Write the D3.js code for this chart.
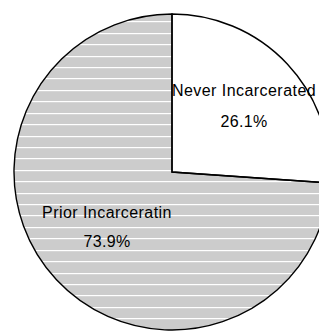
<!DOCTYPE html>
<html><head><meta charset="utf-8">
<script src="https://cdn.jsdelivr.net/npm/d3@7"></script>
<style>html,body{margin:0;padding:0;background:#fff;overflow:hidden}</style>
</head><body>
<svg id="c" width="319" height="332"></svg>
<script>
const categories = ["Never Incarcerated", "Prior Incarceratin"];
const values = [26.1, 73.9];
const valueLabels = ["26.1%", "73.9%"];
const fills = ["#ffffff", "#cccccc"];

const svg = d3.select("#c");
const cx = 172, cy = 172, r = 158;
const g = svg.append("g").attr("transform", `translate(${cx},${cy})`);
const pie = d3.pie().sort(null).value(d => d)(values);
const arc = d3.arc().innerRadius(0).outerRadius(r);

const defs = svg.append("defs");
defs.append("clipPath").attr("id", "clipPrior")
  .append("path").attr("d", arc(pie[1]));

g.selectAll("path.slice").data(pie).join("path")
  .attr("class", "slice")
  .attr("d", arc)
  .attr("fill", (d, i) => fills[i]);

// horizontal white stripes inside the gray slice
const stripeY = d3.range(-16, 30).map(k => Math.round(21.3 + 11.42 * k) - cy);
g.append("g").attr("clip-path", "url(#clipPrior)")
  .selectAll("rect").data(stripeY).join("rect")
  .attr("x", -r).attr("width", 2 * r)
  .attr("y", d => d).attr("height", 1.2)
  .attr("fill", "#ffffff");

g.selectAll("path.edge").data(pie).join("path")
  .attr("class", "edge")
  .attr("d", arc)
  .attr("fill", "none")
  .attr("stroke", "#000")
  .attr("stroke-width", 1.4)
  .attr("stroke-linejoin", "miter");

const labelPos = [[244 - cx, 96 - cy, 127 - cy], [107 - cx, 218 - cy, 247 - cy]];
const lab = g.selectAll("g.lab").data(pie).join("g").attr("class", "lab");
lab.append("text")
  .attr("x", (d, i) => labelPos[i][0]).attr("y", (d, i) => labelPos[i][1])
  .attr("text-anchor", "middle")
  .attr("font-family", "'Liberation Sans', Arial, sans-serif")
  .attr("font-size", 16).attr("letter-spacing", 0.45).attr("fill", "#000")
  .text((d, i) => categories[i]);
lab.append("text")
  .attr("x", (d, i) => labelPos[i][0]).attr("y", (d, i) => labelPos[i][2])
  .attr("text-anchor", "middle")
  .attr("font-family", "'Liberation Sans', Arial, sans-serif")
  .attr("font-size", 16).attr("letter-spacing", 0.3).attr("fill", "#000")
  .text((d, i) => valueLabels[i]);
</script>
</body></html>
